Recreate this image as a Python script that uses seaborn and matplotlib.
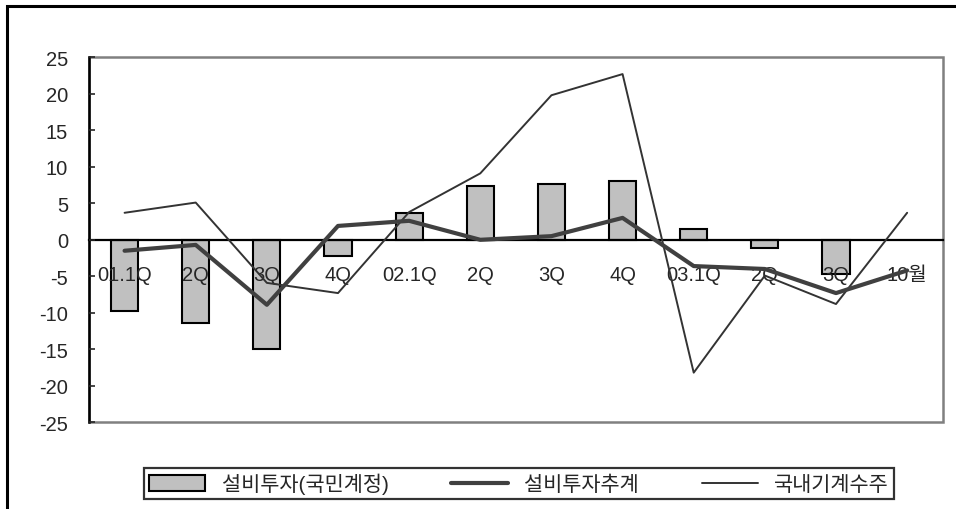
import numpy as np
import pandas as pd
import matplotlib
matplotlib.use("Agg")
import matplotlib.pyplot as plt
import seaborn as sns
from matplotlib.patches import Patch, Rectangle
from matplotlib.lines import Line2D

# dati
categorie = ["01.1Q", "2Q", "3Q", "4Q", "02.1Q", "2Q", "3Q", "4Q", "03.1Q", "2Q", "3Q", "10월"]
investimento = [-9.8, -11.4, -15.0, -2.2, 3.7, 7.4, 7.7, 8.0, 1.5, -1.1, -4.7, np.nan]
stima = [-1.5, -0.7, -8.9, 1.9, 2.6, 0.0, 0.5, 3.0, -3.6, -4.0, -7.3, -4.2]
ordini = [3.7, 5.1, -5.9, -7.3, 3.8, 9.1, 19.8, 22.7, -18.2, -4.9, -8.8, 3.7]
yticks = [25, 20, 15, 10, 5, 0, -5, -10, -15, -20, -25]

nomi = ["설비투자(국민계정)", "설비투자추계", "국내기계수주"]

sns.set_style("white")
plt.rcParams["font.family"] = ["Liberation Sans", "Noto Sans CJK KR", "DejaVu Sans"]

df = pd.DataFrame({"pos": np.arange(len(categorie)), "bar": investimento,
                   "stima": stima, "ordini": ordini})

fig = plt.figure(figsize=(9.56, 5.10), dpi=100)
ax = fig.add_axes([0.0931, 0.170, 0.893, 0.7157])

sns.barplot(data=df, x="pos", y="bar", native_scale=True, width=0.38,
            color="#C0C0C0", edgecolor="black", linewidth=1.5,
            saturation=1, errorbar=None, ax=ax)
sns.lineplot(data=df, x="pos", y="ordini", color="#333333", linewidth=1.4, ax=ax, zorder=3)
sns.lineplot(data=df, x="pos", y="stima", color="#404040", linewidth=3.0, ax=ax, zorder=3)

ax.set_xlim(-0.5, len(categorie) - 0.5)
ax.set_ylim(-25, 25)
ax.set_xlabel("")
ax.set_ylabel("")
ax.set_axisbelow(False)

# asse delle categorie sulla linea dello zero
ax.spines["bottom"].set_position(("data", 0))
ax.spines["bottom"].set_color("black")
ax.spines["bottom"].set_linewidth(1.6)
ax.spines["left"].set_color("black")
ax.spines["left"].set_linewidth(1.8)
for s in ["top", "right"]:
    ax.spines[s].set_visible(False)
ax.add_patch(Rectangle((0, 0), 1, 1, transform=ax.transAxes, fill=False,
                       edgecolor="#808080", linewidth=1.8, zorder=0.5, clip_on=False))

ax.set_xticks(np.arange(len(categorie) + 1) - 0.5)
ax.set_xticklabels([])
ax.set_xticks(np.arange(len(categorie)), minor=True)
ax.set_xticklabels(categorie, minor=True, fontsize=14.5)
ax.tick_params(axis="x", which="major", direction="in", length=4, width=1.5, color="black")
ax.tick_params(axis="x", which="minor", length=0, pad=18)

ax.set_yticks(yticks)
ax.set_yticklabels([str(v) for v in yticks], fontsize=14.5)
ax.tick_params(axis="y", direction="in", length=4, width=1.2, pad=15, left=True)

# legenda
handles = [
    Patch(facecolor="#C0C0C0", edgecolor="black", linewidth=1.5),
    Line2D([], [], color="#404040", linewidth=3.0),
    Line2D([], [], color="#333333", linewidth=1.4),
]
leg = fig.legend(handles, nomi, loc="center", bbox_to_anchor=(0.543, 0.05), ncol=3,
                 fontsize=15, frameon=True, fancybox=False, handlelength=2.7,
                 handletextpad=0.8, columnspacing=3.0, borderpad=0.25,
                 handleheight=0.8)
leg.get_frame().set_edgecolor("black")
leg.get_frame().set_linewidth(1.6)

# cornice esterna
fig.add_artist(Rectangle((0.0073, -0.2), 1.2, 1.1863, transform=fig.transFigure,
                         fill=False, edgecolor="black", linewidth=2.2))

fig.savefig("out.png", dpi=100)
